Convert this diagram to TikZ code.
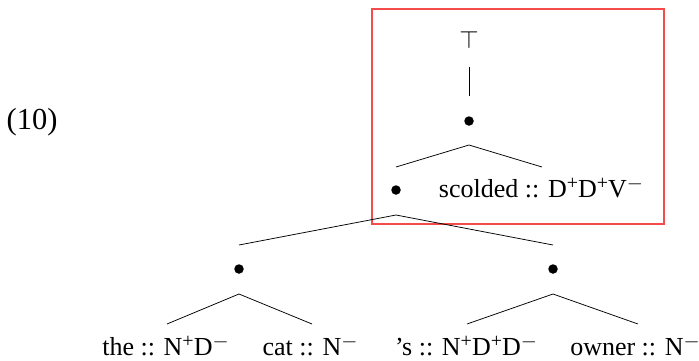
\documentclass[tikz,border=0pt]{standalone}
\usepackage{fontspec}
\setmainfont{Liberation Serif}
\usetikzlibrary{calc}
\definecolor{boxred}{RGB}{245,75,75}
\newcommand\supp{\raisebox{0.28em}{\fontsize{20}{20}\selectfont +}}
\newcommand\supm{\raisebox{0.3em}{\fontsize{20}{20}\selectfont$-$}}
\begin{document}
\begin{tikzpicture}[x=1pt,y=-1pt,
  every node/.style={font=\fontsize{26}{31}\selectfont},
  leaf/.style={anchor=base,inner sep=0pt},
  dotnode/.style={circle,fill=black,inner sep=0pt,minimum size=9.5pt},
  edge/.style={line width=0.75pt}]
\useasboundingbox (0,0) rectangle (699,360);
\draw[boxred,line width=1.5pt] (372,9) rectangle (664,224);
\node[leaf,anchor=base west,font=\fontsize{30.5}{36}\selectfont] (ex) at (6.5,129) {(10)};
\node[inner sep=0pt,font=\fontsize{25}{30}\selectfont] (top) at (469,39.5) {$\top$};
\node[dotnode] (r) at (469,121) {};
\node[dotnode] (a) at (396,190) {};
\node[leaf] (sc) at (541,197) {scolded :: D\supp D\supp V\supm};
\node[dotnode] (b) at (239,269) {};
\node[dotnode] (c) at (553,269) {};
\node[leaf] (the) at (165.5,355) {the :: N\supp D\supm};
\node[leaf] (cat) at (310,355) {cat :: N\supm};
\node[leaf] (s) at (466,355) {'s :: N\supp D\supp D\supm};
\node[leaf] (ow) at (635,355) {owner :: N\supm};
\draw[edge] ($(top)+(0,27)$) -- ($(r)+(0,-25)$);
\draw[edge] ($(a)+(0,-23)$) -- ($(r)+(0,24)$) -- ($(sc.base)+(1,-30)$);
\draw[edge] ($(b)+(0,-24)$) -- ($(a)+(0,25)$) -- ($(c)+(0,-24)$);
\draw[edge] ($(the.base)+(1.5,-31)$) -- ($(b)+(0,25)$) -- ($(cat.base)+(2,-31)$);
\draw[edge] ($(s.base)+(1,-31)$) -- ($(c)+(0,25)$) -- ($(ow.base)+(3,-31)$);
\end{tikzpicture}
\end{document}
